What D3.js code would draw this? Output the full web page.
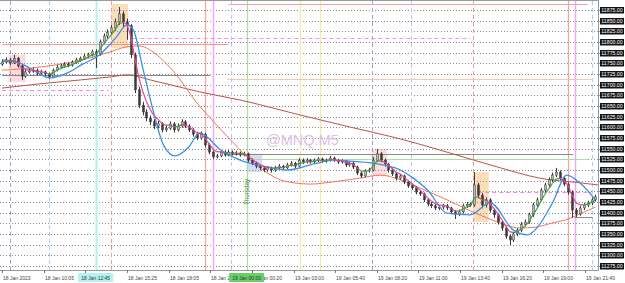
<!DOCTYPE html>
<html><head><meta charset="utf-8">
<script src="https://cdn.jsdelivr.net/npm/d3@7"></script>
<style>html,body{margin:0;padding:0;background:#fff;overflow:hidden}svg{display:block;font-family:"Liberation Sans",Arial,sans-serif}</style>
</head><body><svg id="c" width="625" height="283"></svg>
<script>
// ---------- data ----------
const firstOpen = 11748;
const closes = [11753,11758,11751,11762,11744,11720,11730,11732,11734,11727,
11730,11725,11718,11734,11741,11744,11748,11746,11753,11758,
11762,11767,11770,11777,11772,11800,11814,11823,11833,11847,
11866,11847,11838,11770,11688,11652,11636,11622,11613,11603,
11608,11594,11598,11608,11594,11603,11613,11603,11594,11584,
11575,11584,11559,11542,11531,11533,11542,11535,11542,11538,
11540,11535,11538,11523,11516,11509,11505,11500,11505,11500,
11505,11509,11505,11512,11516,11509,11523,11519,11523,11519,
11523,11526,11521,11523,11528,11523,11519,11521,11512,11516,
11507,11493,11486,11498,11500,11523,11538,11523,11514,11500,
11491,11481,11486,11472,11463,11458,11448,11444,11430,11420,
11416,11411,11413,11416,11411,11402,11397,11402,11416,11420,
11418,11465,11441,11418,11430,11406,11395,11378,11364,11345,
11336,11350,11359,11373,11378,11395,11418,11430,11453,11465,
11477,11488,11495,11481,11467,11448,11406,11397,11411,11418,
11423,11430,11437];
const highs = [11760,11764,11762,11770,11765,11747,11735,11738,11740,11738,
11735,11733,11728,11738,11746,11749,11753,11752,11757,11763,
11766,11772,11775,11782,11783,11806,11820,11830,11840,11855,
11882,11872,11855,11842,11775,11695,11660,11642,11628,11619,
11615,11612,11604,11614,11612,11609,11619,11617,11607,11598,
11589,11590,11587,11563,11546,11538,11547,11546,11547,11546,
11545,11543,11543,11541,11527,11520,11513,11509,11509,11508,
11510,11514,11512,11517,11521,11519,11528,11527,11528,11526,
11527,11530,11529,11527,11533,11531,11526,11525,11524,11520,
11519,11510,11497,11502,11505,11530,11549,11542,11527,11517,
11504,11495,11491,11489,11476,11468,11462,11452,11447,11434,
11425,11420,11418,11421,11420,11414,11406,11407,11421,11425,
11424,11495,11470,11446,11436,11434,11410,11399,11382,11368,
11349,11355,11364,11378,11384,11400,11423,11436,11458,11470,
11483,11494,11505,11499,11485,11471,11452,11411,11416,11423,
11428,11435,11442];
const lows = [11744,11750,11746,11748,11740,11711,11716,11726,11728,11722,
11723,11720,11713,11716,11731,11737,11740,11741,11742,11749,
11754,11758,11763,11766,11739,11768,11795,11808,11817,11826,
11840,11835,11805,11762,11680,11645,11628,11614,11605,11596,
11598,11588,11589,11594,11588,11590,11599,11598,11589,11578,
11570,11571,11553,11537,11525,11527,11530,11531,11532,11534,
11534,11531,11532,11518,11511,11504,11500,11495,11496,11494,
11496,11501,11500,11502,11508,11504,11506,11514,11515,11515,
11515,11519,11517,11517,11520,11519,11514,11515,11507,11508,
11502,11488,11481,11483,11494,11497,11519,11518,11508,11494,
11486,11476,11477,11467,11458,11453,11443,11439,11425,11415,
11411,11406,11406,11408,11406,11396,11385,11392,11398,11411,
11413,11414,11433,11410,11412,11400,11388,11372,11357,11339,
11324,11331,11345,11354,11368,11374,11390,11413,11426,11448,
11460,11472,11483,11476,11462,11442,11388,11390,11393,11406,
11413,11418,11426];
const barsPerCandle = 3;           // 15-min candles on a 5-min index axis
const priceTicks = d3.range(11275, 11876, 25);
const timeLabels = ["18 Jan 2023","18 Jan 10:05","18 Jan 12:45","18 Jan 15:25","18 Jan 18:05","18 Jan 20:45","19 Jan 00:20","19 Jan 03:00","19 Jan 05:40","19 Jan 08:20","19 Jan 11:00","19 Jan 13:40","19 Jan 16:20","19 Jan 19:00","19 Jan 21:40"];
const barsPerLabel = 32;

const blueIdx = [0,12,24,37,50,62,75,88,96,101,108,116,124,133,143,152,168,183,204,219,242,254,267,285,306,316,327,342,360,375,393,404,411,423,434,444,456];
const blueVal = [11758,11753,11734,11716,11727,11748,11770,11812,11840,11828,11741,11641,11559,11533,11552,11587,11547,11523,11507,11500,11516,11523,11521,11516,11500,11481,11453,11399,11395,11423,11359,11348,11364,11423,11488,11470,11430];
const salIdx = [0,22,45,68,83,95,105,114,125,137,148,160,178,191,204,214,224,237,254,275,291,306,321,342,360,375,387,398,410,423,433,444,456];
const salVal = [11734,11739,11748,11763,11777,11788,11791,11781,11753,11711,11664,11622,11563,11523,11493,11477,11470,11467,11472,11481,11488,11477,11458,11430,11404,11385,11371,11364,11366,11376,11383,11397,11413];
const slowIdx = [0,29,60,83,97,114,133,152,183,229,267,306,344,383,413,444,458];
const slowVal = [11692,11702,11711,11718,11723,11711,11697,11683,11664,11629,11601,11573,11540,11505,11481,11470,11465];

const levelPrice = [11889,11795,11809,11723,11688,11713,11538,11525,11448,11390];
const levelFrom  = [174,0,101,0,0,173,175,188,366,440];
const levelTo    = [450,174,360,160,82,454,439,450,453,454];
const levelKind  = ["red","salmon","pinkDash","gray","pinkDash","peach","gray","green","pinkDash","gray"];

const vIdx  = [6,36,72,84,156,162,176,188,229,244,284,314,362,435,440,453];
const vKind = ["purpleDash","blueDash","cyan","redDash","red","magenta","blueDash","green","yellow","yellow","purpleDash","blueDash","redDash","red","magenta","blueDash"];

const boxFrom = [5,84,188,284,362];
const boxTo   = [18,97,200,296,374];
const boxHi   = [11770,11889,11538,11549,11495];
const boxLo   = [11706,11786,11495,11486,11378];
const boxKind = ["pink","orange","lavender","pink","orange"];

const axisMarks = [{idx:72, text:"18 Jan 12:45", kind:"cyan", replaces:2},{idx:188, text:"19 Jan 00:00", kind:"green", replaces:-1}];

// ---------- styles ----------
const lineStyle = {
  red:{c:"#f4a3a3",w:1.2}, salmon:{c:"#f29a8c",w:1}, pinkDash:{c:"#f28cf0",w:1,d:"4,3"},
  gray:{c:"#8a8a8a",w:1}, peach:{c:"#f7c4b0",w:1}, green:{c:"#a6dfa0",w:1.2},
  purpleDash:{c:"#a79ad6",w:1,d:"4,3"}, blueDash:{c:"#a9cff2",w:1,d:"4,3"},
  cyan:{c:"#b4f0f0",w:2}, redDash:{c:"#f29a9a",w:1,d:"4,3"}, magenta:{c:"#f3a6f3",w:1.5},
  yellow:{c:"#f3e9a3",w:1.2}
};
const boxFill = {pink:"rgba(250,190,190,0.55)", orange:"rgba(246,200,140,0.6)", lavender:"rgba(190,190,235,0.55)"};
const markFill = {cyan:"#b2f2f2", green:"#66d066"};

// ---------- drawing ----------
const W=625, H=283, R=598, B=270;
const svg = d3.select("#c");
const x = d3.scaleLinear().domain([0,448]).range([2,585]);
const y = d3.scaleLinear().domain([11275,11875]).range([266,10]);

svg.append("rect").attr("width",W).attr("height",H).attr("fill","#fff");
svg.append("defs").append("clipPath").attr("id","clip")
  .append("rect").attr("x",0).attr("y",1).attr("width",R).attr("height",B-1);
const g = svg.append("g").attr("clip-path","url(#clip)");

g.selectAll("rect.box").data(boxFrom).join("rect").attr("class","box")
  .attr("x",(d,i)=>x(d)).attr("width",(d,i)=>x(boxTo[i])-x(d))
  .attr("y",(d,i)=>y(boxHi[i])).attr("height",(d,i)=>y(boxLo[i])-y(boxHi[i]))
  .attr("fill",(d,i)=>boxFill[boxKind[i]]);

g.selectAll("line.grid").data(priceTicks).join("line").attr("class","grid")
  .attr("x1",0).attr("x2",R).attr("y1",d=>Math.round(y(d))+0.5).attr("y2",d=>Math.round(y(d))+0.5)
  .attr("stroke","#8c8c8c").attr("stroke-width",1).attr("stroke-dasharray","1,2");

g.selectAll("line.v").data(vIdx).join("line").attr("class","v")
  .attr("x1",d=>Math.round(x(d))+0.5).attr("x2",d=>Math.round(x(d))+0.5).attr("y1",1).attr("y2",B)
  .attr("stroke",(d,i)=>lineStyle[vKind[i]].c).attr("stroke-width",(d,i)=>lineStyle[vKind[i]].w)
  .attr("stroke-dasharray",(d,i)=>lineStyle[vKind[i]].d||null);

g.selectAll("line.lvl").data(levelPrice).join("line").attr("class","lvl")
  .attr("x1",(d,i)=>x(levelFrom[i])).attr("x2",(d,i)=>x(levelTo[i]))
  .attr("y1",d=>Math.round(y(d))+0.5).attr("y2",d=>Math.round(y(d))+0.5)
  .attr("stroke",(d,i)=>lineStyle[levelKind[i]].c).attr("stroke-width",(d,i)=>lineStyle[levelKind[i]].w)
  .attr("stroke-dasharray",(d,i)=>lineStyle[levelKind[i]].d||null);

g.append("text").attr("x",266).attr("y",145).attr("font-size",14.5).attr("fill","#dcc0e2").text("@MNQ:M5");
g.append("text").attr("transform",`translate(${Math.round(x(188))+2},205) rotate(-90)`)
  .attr("font-size",6.3).attr("fill","#4f8f4f").text("Thursday");

const mkLine = (ix, vals) => d3.line().x((d,i)=>x(ix[i])).y(d=>y(d)).curve(d3.curveMonotoneX)(vals);
g.append("path").attr("d",mkLine(slowIdx,slowVal)).attr("fill","none").attr("stroke","#c2504a").attr("stroke-width",1);
g.append("path").attr("d",mkLine(salIdx,salVal)).attr("fill","none").attr("stroke","#f2765a").attr("stroke-width",1);

const opens = closes.map((c,i)=> i===0 ? firstOpen : closes[i-1]);
const cg = g.append("g");
closes.forEach((c,i)=>{
  const o = opens[i], cx = Math.round(x(i*barsPerCandle));
  const hi = Math.max(highs[i],o,c), lo = Math.min(lows[i],o,c);
  cg.append("line").attr("x1",cx+0.5).attr("x2",cx+0.5).attr("y1",y(hi)).attr("y2",y(lo))
    .attr("stroke","#3c3c3c").attr("stroke-width",1);
  const top = y(Math.max(o,c)), bot = y(Math.min(o,c));
  cg.append("rect").attr("x",cx-0.5).attr("width",2).attr("y",top).attr("height",Math.max(1,bot-top))
    .attr("fill", c>=o ? "#b9b9b9" : "#3a3a3a").attr("stroke","#3a3a3a").attr("stroke-width",0.5);
});

g.append("path").attr("d",mkLine(blueIdx,blueVal)).attr("fill","none").attr("stroke","#3b8fe8").attr("stroke-width",1.3);

const k = 2/(4+1);
const ema = [];
closes.forEach((c,i)=> ema.push(i===0 ? c : ema[i-1] + k*(c-ema[i-1])));
for (let i=1;i<ema.length;i++){
  g.append("line").attr("x1",x((i-1)*barsPerCandle)).attr("y1",y(ema[i-1]))
    .attr("x2",x(i*barsPerCandle)).attr("y2",y(ema[i]))
    .attr("stroke", ema[i]>=ema[i-1] ? "#3f9f3f" : "#e2468e").attr("stroke-width",1.2);
}

svg.append("line").attr("x1",0).attr("x2",R).attr("y1",0.5).attr("y2",0.5).attr("stroke","#9a9a9a");
svg.append("line").attr("x1",R+0.5).attr("x2",R+0.5).attr("y1",0).attr("y2",B+0.5).attr("stroke","#9a9a9a");
svg.append("line").attr("x1",0).attr("x2",R+0.5).attr("y1",B+0.5).attr("y2",B+0.5).attr("stroke","#9a9a9a");

const ra = svg.append("g");
priceTicks.forEach(p=>{
  const yy = Math.round(y(p));
  ra.append("line").attr("x1",R).attr("x2",R+3).attr("y1",yy+0.5).attr("y2",yy+0.5).attr("stroke","#9a9a9a");
  ra.append("rect").attr("x",600).attr("y",yy-3).attr("width",24).attr("height",6.5).attr("fill","#141414");
  ra.append("text").attr("x",612).attr("y",yy+2.2).attr("text-anchor","middle").attr("font-size",5.2)
    .attr("fill","#fff").text(d3.format(".2f")(p));
});

const replaced = axisMarks.map(m=>m.replaces);
const ba = svg.append("g");
timeLabels.forEach((t,i)=>{
  const xx = Math.round(x(i*barsPerLabel));
  ba.append("line").attr("x1",xx+0.5).attr("x2",xx+0.5).attr("y1",B).attr("y2",B+3).attr("stroke","#777");
  if (replaced.includes(i)) return;
  ba.append("text").attr("x",xx+1).attr("y",279.5).attr("font-size",5).attr("fill","#444").text(t);
});
axisMarks.forEach(m=>{
  const xx = x(m.idx);
  ba.append("rect").attr("x",xx-17.5).attr("y",273).attr("width",35).attr("height",9).attr("fill",markFill[m.kind]);
  ba.append("text").attr("x",xx).attr("y",279.5).attr("text-anchor","middle").attr("font-size",5).attr("fill","#333").text(m.text);
});
</script></body></html>
